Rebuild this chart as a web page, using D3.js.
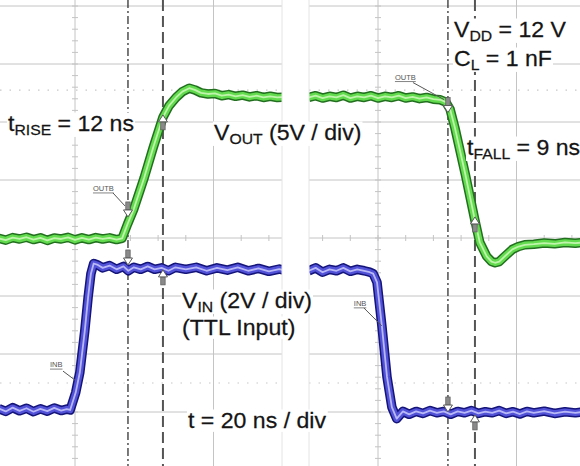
<!DOCTYPE html>
<html><head><meta charset="utf-8">
<script src="https://cdn.jsdelivr.net/npm/d3@7"></script>
<style>html,body{margin:0;padding:0;background:#fff;} svg{display:block;font-family:"Liberation Sans",Arial,sans-serif;}</style>
</head><body><svg id="c" width="580" height="466"></svg>
<script>
// ---------- DATA (time in ns, voltage in V) ----------
// left capture (rising edge), time relative to the left panel grid line
const voutLeft = [[-11,0.05],[-10,-0.1],[-9,0.12],[-8,0.0],[-7,0.15],[-6,-0.05],[-5,0.1],[-4,-0.12],[-3,0.08],[-2,0.0],[-1,0.14],[0,-0.08],[1,0.1],[2,-0.05],[3,0.12],[4,0.0],[5,0.1],[6,-0.05],[6.8,0.05],[7.6,1.3],[8.5,2.6],[10,5.3],[11.3,7.9],[12.7,10.5],[13.6,11.5],[14.6,12.2],[15.5,12.7],[16.5,13.0],[17.3,12.85],[18.2,12.6],[19.2,12.5],[20.2,12.55],[21.2,12.35],[22.2,12.45],[23.2,12.3],[24.2,12.4],[25.2,12.25],[26.2,12.35],[27.2,12.2],[28.2,12.3],[29.2,12.2],[30.5,12.25]];
const vinLeft = [[-11,0.05],[-10,-0.05],[-9,0.08],[-8,-0.03],[-7,0.06],[-6,-0.06],[-5,0.04],[-4,-0.04],[-3,0.07],[-2,-0.02],[-1.2,0.03],[-0.7,0.0],[0.1,0.6],[0.7,1.3],[1.4,2.7],[1.9,3.9],[2.3,4.7],[2.7,5.05],[3.3,5.0],[4,4.9],[5,4.98],[6,4.85],[7,4.95],[7.7,4.8],[8.5,4.92],[9.5,4.85],[10.5,4.95],[11.5,4.85],[12.5,4.9],[13.5,4.8],[14.5,4.92],[16,4.85],[17.5,4.92],[19,4.8],[20.5,4.9],[22,4.82],[23.5,4.92],[25,4.8],[26.5,4.88],[28,4.78],[29.5,4.86],[30.5,4.8]];
// right capture (falling edge), time relative to the right panel grid line
const voutRight = [[-10,12.2],[-9,12.35],[-8,12.15],[-7,12.3],[-6,12.2],[-5,12.4],[-4,12.15],[-3,12.3],[-2,12.2],[-1,12.35],[0,12.15],[1,12.3],[2,12.2],[3,12.35],[4,12.15],[5,12.25],[6,12.1],[7,12.2],[8,12.05],[9,12.0],[9.8,11.8],[10.4,11.2],[11.1,9.6],[12.6,5.6],[14.0,1.6],[14.7,-0.3],[15.7,-1.5],[16.4,-1.95],[16.9,-2.05],[17.5,-1.95],[18.3,-1.5],[19.4,-0.9],[20.3,-0.65],[21.2,-0.5],[22.5,-0.45],[24,-0.35],[25.5,-0.42],[27,-0.3],[28.5,-0.36],[30,-0.28]];
const vinRight = [[-10,4.8],[-9,4.9],[-8,4.75],[-7,4.85],[-6,4.8],[-5,4.9],[-4,4.78],[-3,4.85],[-2,4.8],[-1.2,4.75],[-0.7,4.7],[-0.14,4.4],[0.58,2.86],[1.3,1.14],[2.0,0.1],[2.7,-0.3],[3.6,-0.05],[4.5,-0.15],[5.5,-0.05],[6.5,-0.12],[7.5,-0.02],[8.5,-0.1],[9.5,-0.05],[10.5,-0.15],[11.5,-0.05],[12.5,-0.1],[13.5,-0.02],[14.5,-0.12],[15.5,-0.06],[16.5,-0.1],[17.5,-0.02],[18.5,-0.12],[19.5,-0.06],[20.5,-0.14],[21.5,-0.05],[22.5,-0.1],[24,-0.04],[25.5,-0.12],[27,-0.06],[28.5,-0.1],[30,-0.05]];
// cursor times [dash-dot, dashed]
const cursorsLeft = [7.65, 12.7];
const cursorsRight = [10.1, 14.0];
// cursor markers: [channel, time, volts, direction]
const markersLeft = [["out",7.65,1.9,"down"],["out",12.7,10.7,"up"],["in",7.65,5.0,"down"],["in",12.7,4.83,"up"]];
const markersRight = [["out",10.1,10.9,"down"],["out",14.0,1.9,"up"],["in",10.1,-0.07,"down"],["in",14.0,-0.17,"up"]];
// scope settings
const voltsPerDivOut = 5, voltsPerDivIn = 2, nsPerDiv = 20;
const refLevelsDiv = [2.55, -2.5];

// ---------- SETUP ----------
const svg = d3.select("#c");
svg.append("rect").attr("width",580).attr("height",466).attr("fill","#fff");
const yDiv = d3.scaleLinear().domain([-4,4]).range([470,6]);
const outOffset = -0.017, inOffset = -2.965;
const yOut = v => yDiv(v/voltsPerDivOut + outOffset);
const yIn = v => yDiv(v/voltsPerDivIn + inOffset);

const panels = [
  {id:"L", x0:0, x1:282, x:d3.scaleLinear().domain([0,nsPerDiv]).range([75,213.5]), cur:cursorsLeft, out:voutLeft, inp:vinLeft, mk:markersLeft},
  {id:"R", x0:309, x1:580, x:d3.scaleLinear().domain([0,nsPerDiv]).range([378,516.5]), cur:cursorsRight, out:voutRight, inp:vinRight, mk:markersRight}
];
const defs = svg.append("defs");
const gridColor = "#c4c4c4";

panels.forEach(p => {
  defs.append("clipPath").attr("id","clip"+p.id).append("rect")
    .attr("x",p.x0).attr("y",0).attr("width",p.x1-p.x0).attr("height",466);
  const g = svg.append("g").attr("clip-path","url(#clip"+p.id+")");
  g.selectAll(".h").data(d3.range(-4,5)).join("line")
    .attr("x1",p.x0).attr("x2",p.x1).attr("y1",d=>yDiv(d)).attr("y2",d=>yDiv(d))
    .attr("stroke",gridColor).attr("stroke-width",1);
  const tmin = p.x.invert(p.x0), tmax = p.x.invert(p.x1);
  const vt = d3.range(-3*nsPerDiv, 4*nsPerDiv, nsPerDiv).filter(t=>t>=tmin && t<=tmax);
  g.selectAll(".v").data(vt).join("line")
    .attr("x1",d=>p.x(d)).attr("x2",d=>p.x(d)).attr("y1",0).attr("y2",466)
    .attr("stroke",gridColor).attr("stroke-width",1);
  g.selectAll(".r").data(refLevelsDiv).join("line")
    .attr("x1",p.x0).attr("x2",p.x1).attr("y1",d=>yDiv(d)).attr("y2",d=>yDiv(d))
    .attr("stroke","#c8c8c8").attr("stroke-width",1.2).attr("stroke-dasharray","1.5,8");
  const mt = d3.range(-3*nsPerDiv, 4*nsPerDiv, nsPerDiv/5).filter(t=>t>=tmin && t<=tmax);
  g.selectAll(".mt").data(mt).join("line")
    .attr("x1",d=>p.x(d)).attr("x2",d=>p.x(d)).attr("y1",yDiv(0)-3).attr("y2",yDiv(0)+3)
    .attr("stroke",gridColor);
  g.selectAll(".mv").data(d3.range(-20,21).map(d=>d/5)).join("line")
    .attr("x1",p.x(0)-3).attr("x2",p.x(0)+3).attr("y1",d=>yDiv(d)).attr("y2",d=>yDiv(d))
    .attr("stroke",gridColor);
  g.append("line").attr("x1",p.x(p.cur[0])).attr("x2",p.x(p.cur[0])).attr("y1",0).attr("y2",466)
    .attr("stroke","#333").attr("stroke-width",1.3).attr("stroke-dasharray","8,3,2,3");
  g.append("line").attr("x1",p.x(p.cur[1])).attr("x2",p.x(p.cur[1])).attr("y1",0).attr("y2",466)
    .attr("stroke","#555").attr("stroke-width",2).attr("stroke-dasharray","11,5");
  const lineOut = d3.line().x(d=>p.x(d[0])).y(d=>yOut(d[1]));
  const lineIn = d3.line().x(d=>p.x(d[0])).y(d=>yIn(d[1]));
  [[p.inp,lineIn,["#14147a","#5252d8","#b8b8f6"]],[p.out,lineOut,["#226f1f","#62dc4e","#c0f4ac"]]].forEach(([data,ln,cols])=>{
    g.append("path").attr("d",ln(data)).attr("fill","none").attr("stroke",cols[0]).attr("stroke-width",9.5).attr("stroke-linejoin","round");
    g.append("path").attr("d",ln(data)).attr("fill","none").attr("stroke",cols[1]).attr("stroke-width",6.5).attr("stroke-linejoin","round");
    g.append("path").attr("d",ln(data)).attr("fill","none").attr("stroke",cols[2]).attr("stroke-width",1.8).attr("stroke-linejoin","round");
  });
  p.mk.forEach(([ch,t,v,dir])=>{
    const mx = p.x(t), my = ch==="out" ? yOut(v) : yIn(v);
    const s = dir==="down" ? -1 : 1;
    g.append("rect").attr("x",mx-2.2).attr("y",dir==="down"? my-15 : my+7).attr("width",4.4).attr("height",8)
      .attr("fill","#8a8a8a").attr("stroke","#5a5a5a").attr("stroke-width",0.7);
    g.append("path").attr("d",`M${mx-4.5},${my+s*7}L${mx+4.5},${my+s*7}L${mx},${my}Z`)
      .attr("fill","#fff").attr("stroke","#5a5a5a").attr("stroke-width",1);
  });
});
[282,309].forEach(x=>svg.append("line").attr("x1",x).attr("x2",x).attr("y1",0).attr("y2",466).attr("stroke","#e4e4e4"));

// ---------- small probe labels ----------
const probeLabels = [
  {p:0, ch:"out", t:7.65, v:1.9, text:"OUTB", dx:-35, dy:-26, lx1:-15, ly1:-24, lx2:-3, ly2:-11},
  {p:1, ch:"out", t:10.1, v:10.9, text:"OUTB", dx:-53, dy:-33, lx1:-35, ly1:-30, lx2:-4, ly2:-13},
  {p:0, ch:"in", t:0.0, v:1.03, text:"INB", dx:-25, dy:-13, lx1:-12, ly1:-9, lx2:0, ly2:0},
  {p:1, ch:"in", t:0.55, v:2.9, text:"INB", dx:-28, dy:-20, lx1:-18, ly1:-18, lx2:0, ly2:0}
];
probeLabels.forEach(l=>{
  const p = panels[l.p];
  const ax = p.x(l.t), ay = l.ch==="out" ? yOut(l.v) : yIn(l.v);
  const txt = svg.append("text").attr("x",ax+l.dx).attr("y",ay+l.dy).attr("font-size",7.5)
    .attr("fill","#555").text(l.text);
  const w = txt.node().getComputedTextLength();
  svg.append("line").attr("x1",ax+l.dx).attr("x2",ax+l.dx+w).attr("y1",ay+l.dy+2).attr("y2",ay+l.dy+2)
    .attr("stroke","#666").attr("stroke-width",0.8);
  svg.append("line").attr("x1",ax+l.lx1).attr("y1",ay+l.ly1).attr("x2",ax+l.lx2).attr("y2",ay+l.ly2)
    .attr("stroke","#555").attr("stroke-width",1);
});

// ---------- text labels ----------
const labels = [
  {x:8, y:131, parts:[["t"],["RISE",1],[" = 12 ns"]]},
  {x:214, y:140, parts:[["V"],["OUT",1],[" (5V / div)"]]},
  {x:454, y:37, parts:[["V"],["DD",1],[" = 12 V"]]},
  {x:454, y:66, parts:[["C"],["L",1],[" = 1 nF"]]},
  {x:467, y:155, parts:[["t"],["FALL",1],[" = 9 ns"]]},
  {x:182, y:308, parts:[["V"],["IN",1],[" (2V / div)"]]},
  {x:182, y:335, parts:[["(TTL Input)"]]},
  {x:188, y:428, parts:[["t = 20 ns / div"]]}
];
labels.forEach(l=>{
  const g = svg.append("g").attr("transform",`translate(${l.x},${l.y}) scale(1.05,1)`);
  const bg = g.append("rect").attr("fill","#fff");
  const t = g.append("text").attr("x",0).attr("y",0).attr("font-size",22).attr("fill","#151515")
    .attr("stroke","#151515").attr("stroke-width",0.25);
  let shifted = false;
  l.parts.forEach(([s,sub])=>{
    const ts = t.append("tspan").text(s);
    if (sub) { ts.attr("font-size",15).attr("dy",4); shifted = true; }
    else if (shifted) { ts.attr("dy",-4); shifted = false; }
  });
  const b = t.node().getBBox();
  bg.attr("x",b.x-1).attr("y",b.y+1).attr("width",b.width+2).attr("height",b.height-2);
});
</script></body></html>
